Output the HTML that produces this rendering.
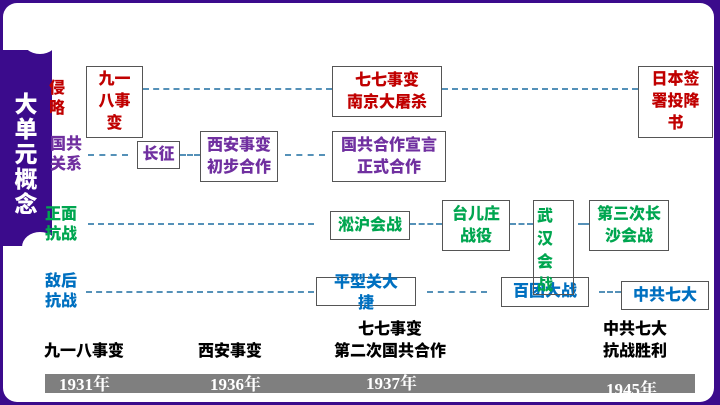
<!DOCTYPE html>
<html><head><meta charset="utf-8"><style>
*{margin:0;padding:0;box-sizing:border-box}
body{width:720px;height:405px;overflow:hidden;background:#3b0b8c;position:relative;font-family:"Liberation Sans","Noto Sans CJK SC",sans-serif;font-weight:bold}
.panel{position:absolute;left:3px;top:3px;width:711px;height:399px;background:#fff;border-radius:14px}
.tab{position:absolute;left:0;top:50px;width:52px;height:196px;background:#3b0b8c}
.n1{position:absolute;left:22px;top:24px;width:36px;height:30px;border-radius:50%;background:#fff}
.n2{position:absolute;left:22px;top:232px;width:36px;height:30px;border-radius:50%;background:#fff}
.tt{position:absolute;left:12px;top:92px;width:28px;color:#fff;font-size:23px;line-height:25px;text-align:center;font-weight:900}
.b{position:absolute;border:1.5px solid #555;background:#fff;text-align:center;font-size:16px;line-height:22px;display:flex;align-items:center;justify-content:center;font-weight:900}
.r{color:#c00000}.p{color:#7030a0}.g{color:#00a650}.bl{color:#0070c0}
.l{position:absolute;font-size:16px;line-height:20px;font-weight:900}
.d{position:absolute;height:0;border-top:2px dashed #5591b8}
.k{position:absolute;font-size:16px;line-height:22px;color:#000;text-align:center;font-weight:900}
.bar{position:absolute;left:45px;top:374px;width:650px;height:19px;background:#7f7f7f}
.y{position:absolute;color:#fff;font-family:"Liberation Serif","Noto Serif CJK SC",serif;font-size:17px;line-height:20px;font-weight:bold}
</style></head><body>
<div class="panel"></div>
<div class="tab"></div><div class="n1"></div><div class="n2"></div>
<div class="tt">大单元概念</div>

<div class="l r" style="left:49px;top:79px;width:18px">侵略</div>
<div class="l p" style="left:50px;top:135px;width:36px">国共关系</div>
<div class="l g" style="left:45px;top:205px;width:36px">正面抗战</div>
<div class="l bl" style="left:45px;top:272px;width:36px">敌后抗战</div>

<div class="d" style="left:143px;top:88px;width:189px"></div>
<div class="d" style="left:442px;top:88px;width:196px"></div>
<div class="d" style="left:88px;top:154px;width:40px"></div>
<div class="d" style="left:180px;top:154px;width:20px"></div>
<div class="d" style="left:285px;top:154px;width:40px"></div>
<div class="d" style="left:88px;top:223px;width:226px"></div>
<div class="d" style="left:410px;top:223px;width:32px"></div>
<div class="d" style="left:510px;top:223px;width:23px"></div>
<div class="d" style="left:578px;top:223px;width:11px"></div>
<div class="d" style="left:86px;top:291px;width:228px"></div>
<div class="d" style="left:427px;top:291px;width:60px"></div>
<div class="d" style="left:599px;top:291px;width:22px"></div>

<div class="b r" style="left:86px;top:66px;width:57px;height:72px">九一<br>八事<br>变</div>
<div class="b r" style="left:332px;top:66px;width:110px;height:51px">七七事变<br>南京大屠杀</div>
<div class="b r" style="left:638px;top:66px;width:75px;height:72px">日本签<br>署投降<br>书</div>
<div class="b p" style="left:137px;top:141px;width:43px;height:28px">长征</div>
<div class="b p" style="left:200px;top:131px;width:78px;height:51px">西安事变<br>初步合作</div>
<div class="b p" style="left:332px;top:131px;width:114px;height:51px">国共合作宣言<br>正式合作</div>
<div class="b g" style="left:330px;top:211px;width:80px;height:29px">淞沪会战</div>
<div class="b g" style="left:442px;top:200px;width:68px;height:51px">台儿庄<br>战役</div>
<div class="b g" style="left:589px;top:200px;width:80px;height:51px">第三次长<br>沙会战</div>
<div class="b bl" style="left:316px;top:277px;width:100px;height:29px"></div>
<div class="l bl" style="left:316px;top:272px;width:100px;text-align:center;line-height:21px">平型关大<br>捷</div>
<div class="b bl" style="left:501px;top:277px;width:88px;height:30px">百团大战</div>
<div class="b" style="left:533px;top:200px;width:41px;height:95px;background:transparent"></div>
<div class="l g" style="left:537px;top:205px;width:18px;line-height:23px">武汉会战</div>
<div class="b bl" style="left:621px;top:281px;width:88px;height:29px">中共七大</div>

<div class="k" style="left:34px;top:341px;width:100px">九一八事变</div>
<div class="k" style="left:188px;top:341px;width:84px">西安事变</div>
<div class="k" style="left:318px;top:319px;width:144px">七七事变<br>第二次国共合作</div>
<div class="k" style="left:588px;top:319px;width:94px">中共七大<br>抗战胜利</div>

<div class="bar"></div>
<div class="y" style="left:59px;top:375px">1931年</div>
<div class="y" style="left:210px;top:375px">1936年</div>
<div class="y" style="left:366px;top:374px">1937年</div>
<div class="y" style="left:606px;top:380px">1945年</div>
</body></html>
